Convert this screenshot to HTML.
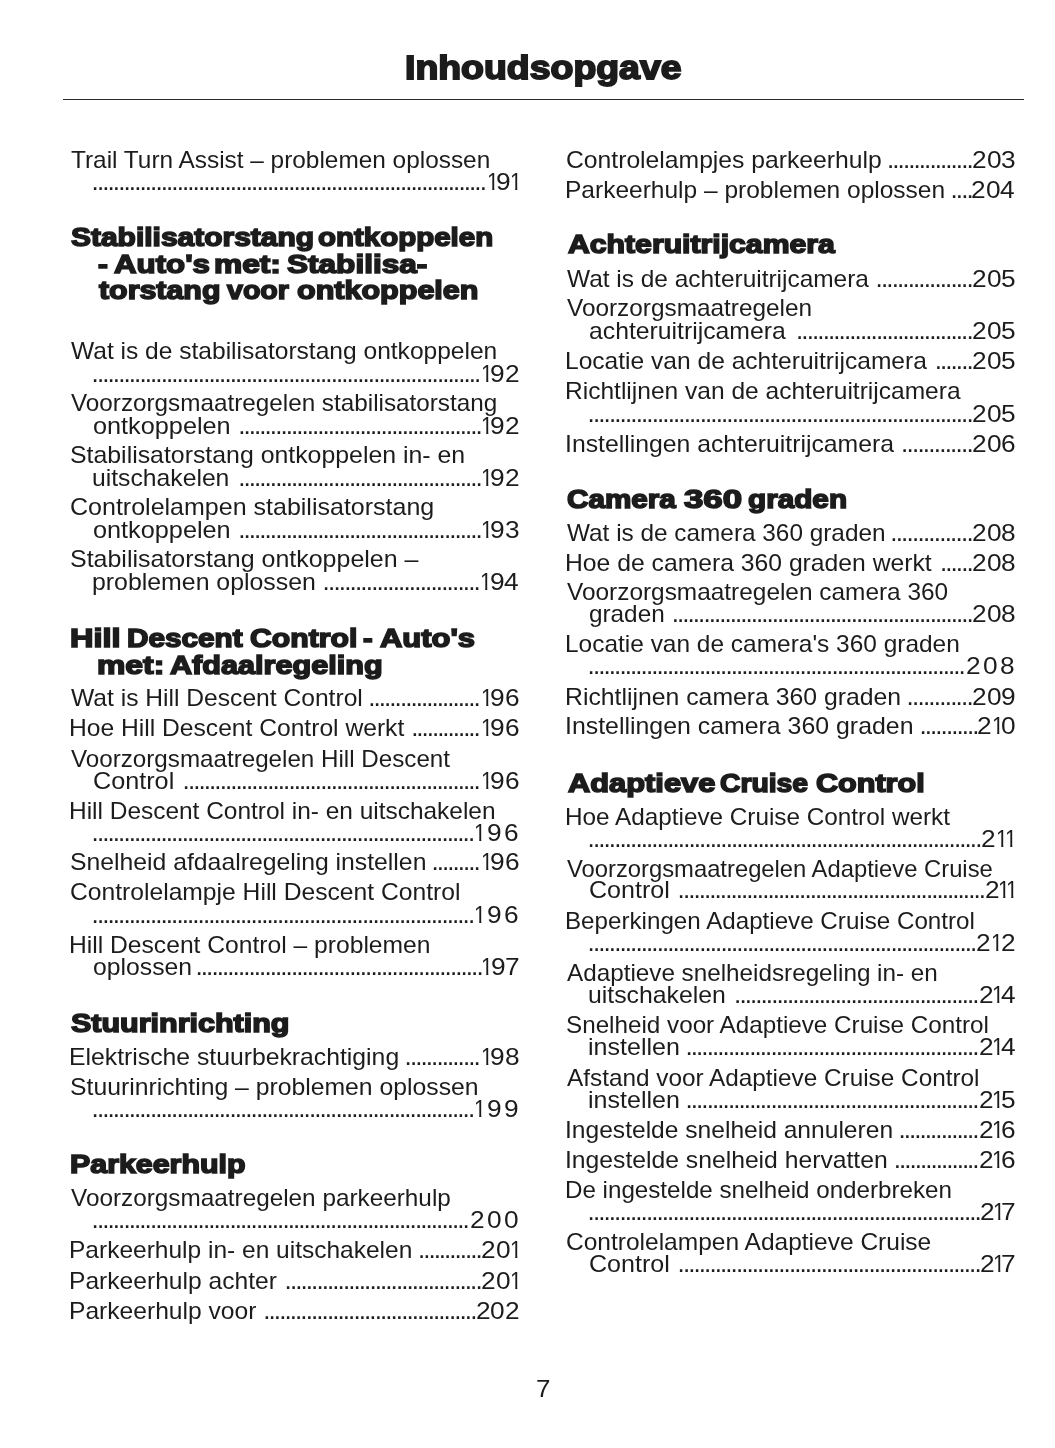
<!DOCTYPE html>
<html lang="nl"><head><meta charset="utf-8"><title>Inhoudsopgave</title>
<style>
html,body{margin:0;padding:0;background:#fff;}
body{width:1055px;height:1448px;position:relative;overflow:hidden;font-family:"Liberation Sans",sans-serif;color:#1c1c1c;}
#page{position:absolute;left:0;top:0;width:1055px;height:1448px;will-change:transform;}
span{position:absolute;white-space:pre;transform-origin:0 0;line-height:40px;display:block;}
.L{font-size:24.0px;}
.N{font-size:23.0px;}
.N1{clip-path:polygon(0 0,100% 0,100% 25.9px,7.95px 25.9px,7.95px 100%,5.7px 100%,5.7px 25.9px,0 25.9px);}
.P{font-size:23.5px;}
.H{font-size:26.5px;font-weight:bold;-webkit-text-stroke:1.6px #1c1c1c;}
.T{font-size:32.5px;font-weight:bold;-webkit-text-stroke:1.8px #1c1c1c;}
.D{font-size:26.0px;line-height:30px;letter-spacing:-1.924px;}
.rule{position:absolute;left:63px;top:99px;width:961px;height:1.4px;background:#2a2a2a;}
</style></head>
<body>
<div id="page">
<div class="rule"></div>
<span class="T" style="left:404.74px;top:48px;transform:scaleX(1.1516)">Inhoudsopgave</span>
<span class="L" style="left:70.85px;top:140px;transform:scaleX(1.0159)">Trail Turn Assist – problemen oplossen</span>
<span class="D" style="left:91.62px;top:166px;letter-spacing:-1.908px">..........................................................................</span>
<span class="N N1" style="left:486.51px;top:162px;transform:scaleX(0.920)">1</span>
<span class="N" style="left:496.10px;top:162px;transform:scaleX(1.1414)">9</span>
<span class="N N1" style="left:510.41px;top:162px;transform:scaleX(0.920)">1</span>
<span class="H" style="left:71.29px;top:217px;transform:scaleX(1.1306)">Stabilisatorstang</span>
<span class="H" style="left:317.89px;top:217px;transform:scaleX(1.1118)">ontkoppelen</span>
<span class="H" style="left:97.94px;top:244px;transform:scaleX(1.1158)">-</span>
<span class="H" style="left:113.51px;top:244px;transform:scaleX(1.1791)">Auto's</span>
<span class="H" style="left:214.40px;top:244px;transform:scaleX(1.1962)">met:</span>
<span class="H" style="left:286.79px;top:244px;transform:scaleX(1.1909)">Stabilisa-</span>
<span class="H" style="left:98.74px;top:270px;transform:scaleX(1.1457)">torstang</span>
<span class="H" style="left:227.03px;top:270px;transform:scaleX(1.0791)">voor</span>
<span class="H" style="left:296.88px;top:270px;transform:scaleX(1.1521)">ontkoppelen</span>
<span class="L" style="left:71.14px;top:331px;transform:scaleX(1.0230)">Wat is de stabilisatorstang ontkoppelen</span>
<span class="D" style="left:91.62px;top:358px;letter-spacing:-1.911px">.........................................................................</span>
<span class="N N1" style="left:480.81px;top:354px;transform:scaleX(0.920)">1</span>
<span class="N" style="left:490.40px;top:354px;transform:scaleX(1.1414)">9</span>
<span class="N" style="left:505.00px;top:354px;transform:scaleX(1.1414)">2</span>
<span class="L" style="left:71.09px;top:383px;transform:scaleX(1.0110)">Voorzorgsmaatregelen stabilisatorstang</span>
<span class="L" style="left:92.92px;top:406px;transform:scaleX(1.0524)">ontkoppelen</span>
<span class="D" style="left:238.22px;top:410px;letter-spacing:-1.950px">..............................................</span>
<span class="N N1" style="left:480.81px;top:406px;transform:scaleX(0.920)">1</span>
<span class="N" style="left:490.40px;top:406px;transform:scaleX(1.1414)">9</span>
<span class="N" style="left:505.00px;top:406px;transform:scaleX(1.1414)">2</span>
<span class="L" style="left:69.92px;top:435px;transform:scaleX(1.0355)">Stabilisatorstang ontkoppelen in- en</span>
<span class="L" style="left:92.40px;top:458px;transform:scaleX(1.0296)">uitschakelen</span>
<span class="D" style="left:238.22px;top:462px;letter-spacing:-1.950px">..............................................</span>
<span class="N N1" style="left:480.81px;top:458px;transform:scaleX(0.920)">1</span>
<span class="N" style="left:490.40px;top:458px;transform:scaleX(1.1414)">9</span>
<span class="N" style="left:505.00px;top:458px;transform:scaleX(1.1414)">2</span>
<span class="L" style="left:70.10px;top:487px;transform:scaleX(1.0422)">Controlelampen stabilisatorstang</span>
<span class="L" style="left:92.92px;top:510px;transform:scaleX(1.0524)">ontkoppelen</span>
<span class="D" style="left:238.22px;top:514px;letter-spacing:-1.950px">..............................................</span>
<span class="N N1" style="left:480.81px;top:510px;transform:scaleX(0.920)">1</span>
<span class="N" style="left:490.40px;top:510px;transform:scaleX(1.1414)">9</span>
<span class="N" style="left:505.00px;top:510px;transform:scaleX(1.1414)">3</span>
<span class="L" style="left:69.92px;top:539px;transform:scaleX(1.0404)">Stabilisatorstang ontkoppelen –</span>
<span class="L" style="left:92.37px;top:562px;transform:scaleX(1.0358)">problemen oplossen</span>
<span class="D" style="left:322.62px;top:566px;letter-spacing:-1.833px">.............................</span>
<span class="N N1" style="left:480.01px;top:562px;transform:scaleX(0.920)">1</span>
<span class="N" style="left:489.60px;top:562px;transform:scaleX(1.1414)">9</span>
<span class="N" style="left:504.20px;top:562px;transform:scaleX(1.1414)">4</span>
<span class="H" style="left:70.37px;top:618px;transform:scaleX(1.2256)">Hill</span>
<span class="H" style="left:126.88px;top:618px;transform:scaleX(1.1204)">Descent</span>
<span class="H" style="left:250.30px;top:618px;transform:scaleX(1.1398)">Control</span>
<span class="H" style="left:363.25px;top:618px;transform:scaleX(1.0918)">-</span>
<span class="H" style="left:380.21px;top:618px;transform:scaleX(1.1680)">Auto's</span>
<span class="H" style="left:97.30px;top:645px;transform:scaleX(1.2019)">met:</span>
<span class="H" style="left:170.01px;top:645px;transform:scaleX(1.1556)">Afdaalregeling</span>
<span class="L" style="left:71.14px;top:678px;transform:scaleX(1.0256)">Wat is Hill Descent Control</span>
<span class="D" style="left:368.32px;top:682px;letter-spacing:-1.962px">.....................</span>
<span class="N N1" style="left:480.81px;top:678px;transform:scaleX(0.920)">1</span>
<span class="N" style="left:490.40px;top:678px;transform:scaleX(1.1414)">9</span>
<span class="N" style="left:505.00px;top:678px;transform:scaleX(1.1414)">6</span>
<span class="L" style="left:69.35px;top:708px;transform:scaleX(1.0259)">Hoe Hill Descent Control werkt</span>
<span class="D" style="left:411.16px;top:712px;letter-spacing:-2.024px">.............</span>
<span class="N N1" style="left:480.81px;top:708px;transform:scaleX(0.920)">1</span>
<span class="N" style="left:490.40px;top:708px;transform:scaleX(1.1414)">9</span>
<span class="N" style="left:505.00px;top:708px;transform:scaleX(1.1414)">6</span>
<span class="L" style="left:71.09px;top:739px;transform:scaleX(1.0076)">Voorzorgsmaatregelen Hill Descent</span>
<span class="L" style="left:92.69px;top:761px;transform:scaleX(1.0499)">Control</span>
<span class="D" style="left:182.62px;top:765px;letter-spacing:-1.934px">........................................................</span>
<span class="N N1" style="left:480.81px;top:761px;transform:scaleX(0.920)">1</span>
<span class="N" style="left:490.40px;top:761px;transform:scaleX(1.1414)">9</span>
<span class="N" style="left:505.00px;top:761px;transform:scaleX(1.1414)">6</span>
<span class="L" style="left:69.36px;top:791px;transform:scaleX(1.0183)">Hill Descent Control in- en uitschakelen</span>
<span class="D" style="left:91.62px;top:817px">........................................................................</span>
<span class="N N1" style="left:474.31px;top:813px;transform:scaleX(0.920)">1</span>
<span class="N" style="left:486.50px;top:813px;transform:scaleX(1.1414)">9</span>
<span class="N" style="left:503.70px;top:813px;transform:scaleX(1.1414)">6</span>
<span class="L" style="left:69.93px;top:842px;transform:scaleX(1.0313)">Snelheid afdaalregeling instellen</span>
<span class="D" style="left:431.62px;top:846px;letter-spacing:-1.982px">.........</span>
<span class="N N1" style="left:480.81px;top:842px;transform:scaleX(0.920)">1</span>
<span class="N" style="left:490.40px;top:842px;transform:scaleX(1.1414)">9</span>
<span class="N" style="left:505.00px;top:842px;transform:scaleX(1.1414)">6</span>
<span class="L" style="left:70.12px;top:872px;transform:scaleX(1.0269)">Controlelampje Hill Descent Control</span>
<span class="D" style="left:91.62px;top:899px">........................................................................</span>
<span class="N N1" style="left:474.31px;top:895px;transform:scaleX(0.920)">1</span>
<span class="N" style="left:486.50px;top:895px;transform:scaleX(1.1414)">9</span>
<span class="N" style="left:503.70px;top:895px;transform:scaleX(1.1414)">6</span>
<span class="L" style="left:69.35px;top:925px;transform:scaleX(1.0265)">Hill Descent Control – problemen</span>
<span class="L" style="left:92.94px;top:947px;transform:scaleX(1.0307)">oplossen</span>
<span class="D" style="left:195.52px;top:951px">......................................................</span>
<span class="N N1" style="left:481.01px;top:947px;transform:scaleX(0.920)">1</span>
<span class="N" style="left:490.60px;top:947px;transform:scaleX(1.1414)">9</span>
<span class="N" style="left:505.20px;top:947px;transform:scaleX(1.1414)">7</span>
<span class="H" style="left:71.29px;top:1003px;transform:scaleX(1.1500)">Stuurinrichting</span>
<span class="L" style="left:69.34px;top:1037px;transform:scaleX(1.0312)">Elektrische stuurbekrachtiging</span>
<span class="D" style="left:404.62px;top:1041px">..............</span>
<span class="N N1" style="left:480.81px;top:1037px;transform:scaleX(0.920)">1</span>
<span class="N" style="left:490.40px;top:1037px;transform:scaleX(1.1414)">9</span>
<span class="N" style="left:505.00px;top:1037px;transform:scaleX(1.1414)">8</span>
<span class="L" style="left:69.93px;top:1067px;transform:scaleX(1.0311)">Stuurinrichting – problemen oplossen</span>
<span class="D" style="left:91.62px;top:1093px">........................................................................</span>
<span class="N N1" style="left:474.31px;top:1089px;transform:scaleX(0.920)">1</span>
<span class="N" style="left:486.50px;top:1089px;transform:scaleX(1.1414)">9</span>
<span class="N" style="left:503.70px;top:1089px;transform:scaleX(1.1414)">9</span>
<span class="H" style="left:70.25px;top:1144px;transform:scaleX(1.1459)">Parkeerhulp</span>
<span class="L" style="left:71.09px;top:1178px;transform:scaleX(1.0131)">Voorzorgsmaatregelen parkeerhulp</span>
<span class="D" style="left:91.62px;top:1204px">.......................................................................</span>
<span class="N" style="left:470.40px;top:1200px;transform:scaleX(1.1414)">2</span>
<span class="N" style="left:487.05px;top:1200px;transform:scaleX(1.1414)">0</span>
<span class="N" style="left:503.70px;top:1200px;transform:scaleX(1.1414)">0</span>
<span class="L" style="left:69.36px;top:1230px;transform:scaleX(1.0212)">Parkeerhulp in- en uitschakelen</span>
<span class="D" style="left:417.92px;top:1234px;letter-spacing:-1.984px">............</span>
<span class="N" style="left:481.10px;top:1230px;transform:scaleX(1.1414)">2</span>
<span class="N" style="left:495.70px;top:1230px;transform:scaleX(1.1414)">0</span>
<span class="N N1" style="left:510.01px;top:1230px;transform:scaleX(0.920)">1</span>
<span class="L" style="left:69.35px;top:1261px;transform:scaleX(1.0252)">Parkeerhulp achter</span>
<span class="D" style="left:284.62px;top:1265px">.....................................</span>
<span class="N" style="left:481.10px;top:1261px;transform:scaleX(1.1414)">2</span>
<span class="N" style="left:495.70px;top:1261px;transform:scaleX(1.1414)">0</span>
<span class="N N1" style="left:510.01px;top:1261px;transform:scaleX(0.920)">1</span>
<span class="L" style="left:69.35px;top:1291px;transform:scaleX(1.0252)">Parkeerhulp voor</span>
<span class="D" style="left:263.22px;top:1295px;letter-spacing:-1.918px">........................................</span>
<span class="N" style="left:475.80px;top:1291px;transform:scaleX(1.1414)">2</span>
<span class="N" style="left:490.40px;top:1291px;transform:scaleX(1.1414)">0</span>
<span class="N" style="left:505.00px;top:1291px;transform:scaleX(1.1414)">2</span>
<span class="L" style="left:565.92px;top:140px;transform:scaleX(1.0290)">Controlelampjes parkeerhulp</span>
<span class="D" style="left:887.02px;top:144px;letter-spacing:-1.928px">................</span>
<span class="N" style="left:971.90px;top:140px;transform:scaleX(1.1414)">2</span>
<span class="N" style="left:986.50px;top:140px;transform:scaleX(1.1414)">0</span>
<span class="N" style="left:1001.10px;top:140px;transform:scaleX(1.1414)">3</span>
<span class="L" style="left:565.16px;top:170px;transform:scaleX(1.0212)">Parkeerhulp – problemen oplossen</span>
<span class="D" style="left:950.56px;top:174px">....</span>
<span class="N" style="left:971.10px;top:170px;transform:scaleX(1.1414)">2</span>
<span class="N" style="left:985.70px;top:170px;transform:scaleX(1.1414)">0</span>
<span class="N" style="left:1000.30px;top:170px;transform:scaleX(1.1414)">4</span>
<span class="H" style="left:567.50px;top:224px;transform:scaleX(1.1394)">Achteruitrijcamera</span>
<span class="L" style="left:566.94px;top:259px;transform:scaleX(1.0181)">Wat is de achteruitrijcamera</span>
<span class="D" style="left:875.62px;top:263px;letter-spacing:-1.880px">..................</span>
<span class="N" style="left:971.90px;top:259px;transform:scaleX(1.1414)">2</span>
<span class="N" style="left:986.50px;top:259px;transform:scaleX(1.1414)">0</span>
<span class="N" style="left:1001.10px;top:259px;transform:scaleX(1.1414)">5</span>
<span class="L" style="left:566.89px;top:288px;transform:scaleX(1.0150)">Voorzorgsmaatregelen</span>
<span class="L" style="left:588.78px;top:311px;transform:scaleX(1.0313)">achteruitrijcamera</span>
<span class="D" style="left:796.02px;top:315px;letter-spacing:-1.898px">.................................</span>
<span class="N" style="left:971.90px;top:311px;transform:scaleX(1.1414)">2</span>
<span class="N" style="left:986.50px;top:311px;transform:scaleX(1.1414)">0</span>
<span class="N" style="left:1001.10px;top:311px;transform:scaleX(1.1414)">5</span>
<span class="L" style="left:565.15px;top:341px;transform:scaleX(1.0236)">Locatie van de achteruitrijcamera</span>
<span class="D" style="left:934.66px;top:345px">.......</span>
<span class="N" style="left:971.90px;top:341px;transform:scaleX(1.1414)">2</span>
<span class="N" style="left:986.50px;top:341px;transform:scaleX(1.1414)">0</span>
<span class="N" style="left:1001.10px;top:341px;transform:scaleX(1.1414)">5</span>
<span class="L" style="left:565.16px;top:371px;transform:scaleX(1.0225)">Richtlijnen van de achteruitrijcamera</span>
<span class="D" style="left:587.62px;top:398px;letter-spacing:-1.888px">........................................................................</span>
<span class="N" style="left:971.90px;top:394px;transform:scaleX(1.1414)">2</span>
<span class="N" style="left:986.50px;top:394px;transform:scaleX(1.1414)">0</span>
<span class="N" style="left:1001.10px;top:394px;transform:scaleX(1.1414)">5</span>
<span class="L" style="left:564.90px;top:424px;transform:scaleX(1.0318)">Instellingen achteruitrijcamera</span>
<span class="D" style="left:901.06px;top:428px;letter-spacing:-1.774px">.............</span>
<span class="N" style="left:971.90px;top:424px;transform:scaleX(1.1414)">2</span>
<span class="N" style="left:986.50px;top:424px;transform:scaleX(1.1414)">0</span>
<span class="N" style="left:1001.10px;top:424px;transform:scaleX(1.1414)">6</span>
<span class="H" style="left:566.81px;top:479px;transform:scaleX(1.1189)">Camera</span>
<span class="H" style="left:683.82px;top:479px;transform:scaleX(1.3132)">360</span>
<span class="H" style="left:747.93px;top:479px;transform:scaleX(1.1208)">graden</span>
<span class="L" style="left:566.94px;top:513px;transform:scaleX(1.0146)">Wat is de camera 360 graden</span>
<span class="D" style="left:890.22px;top:517px;letter-spacing:-1.778px">...............</span>
<span class="N" style="left:971.90px;top:513px;transform:scaleX(1.1414)">2</span>
<span class="N" style="left:986.50px;top:513px;transform:scaleX(1.1414)">0</span>
<span class="N" style="left:1001.10px;top:513px;transform:scaleX(1.1414)">8</span>
<span class="L" style="left:565.14px;top:543px;transform:scaleX(1.0295)">Hoe de camera 360 graden werkt</span>
<span class="D" style="left:939.96px;top:547px">......</span>
<span class="N" style="left:971.90px;top:543px;transform:scaleX(1.1414)">2</span>
<span class="N" style="left:986.50px;top:543px;transform:scaleX(1.1414)">0</span>
<span class="N" style="left:1001.10px;top:543px;transform:scaleX(1.1414)">8</span>
<span class="L" style="left:566.89px;top:572px;transform:scaleX(1.0167)">Voorzorgsmaatregelen camera 360</span>
<span class="L" style="left:588.87px;top:594px;transform:scaleX(1.0126)">graden</span>
<span class="D" style="left:671.82px;top:598px;letter-spacing:-1.962px">.........................................................</span>
<span class="N" style="left:971.90px;top:594px;transform:scaleX(1.1414)">2</span>
<span class="N" style="left:986.50px;top:594px;transform:scaleX(1.1414)">0</span>
<span class="N" style="left:1001.10px;top:594px;transform:scaleX(1.1414)">8</span>
<span class="L" style="left:565.16px;top:624px;transform:scaleX(1.0188)">Locatie van de camera's 360 graden</span>
<span class="D" style="left:587.62px;top:650px">.......................................................................</span>
<span class="N" style="left:966.30px;top:646px;transform:scaleX(1.1414)">2</span>
<span class="N" style="left:983.20px;top:646px;transform:scaleX(1.1414)">0</span>
<span class="N" style="left:1000.10px;top:646px;transform:scaleX(1.1414)">8</span>
<span class="L" style="left:565.13px;top:677px;transform:scaleX(1.0326)">Richtlijnen camera 360 graden</span>
<span class="D" style="left:906.62px;top:681px;letter-spacing:-1.784px">............</span>
<span class="N" style="left:971.90px;top:677px;transform:scaleX(1.1414)">2</span>
<span class="N" style="left:986.50px;top:677px;transform:scaleX(1.1414)">0</span>
<span class="N" style="left:1001.10px;top:677px;transform:scaleX(1.1414)">9</span>
<span class="L" style="left:564.89px;top:706px;transform:scaleX(1.0365)">Instellingen camera 360 graden</span>
<span class="D" style="left:919.62px;top:710px;letter-spacing:-1.970px">...........</span>
<span class="N" style="left:977.20px;top:706px;transform:scaleX(1.1414)">2</span>
<span class="N N1" style="left:991.51px;top:706px;transform:scaleX(0.920)">1</span>
<span class="N" style="left:1001.10px;top:706px;transform:scaleX(1.1414)">0</span>
<span class="H" style="left:567.51px;top:763px;transform:scaleX(1.1632)">Adaptieve</span>
<span class="H" style="left:720.13px;top:763px;transform:scaleX(1.0679)">Cruise</span>
<span class="H" style="left:815.70px;top:763px;transform:scaleX(1.1538)">Control</span>
<span class="L" style="left:565.17px;top:797px;transform:scaleX(1.0125)">Hoe Adaptieve Cruise Control werkt</span>
<span class="D" style="left:587.62px;top:823px;letter-spacing:-1.915px">..........................................................................</span>
<span class="N" style="left:981.40px;top:819px;transform:scaleX(1.1414)">2</span>
<span class="N N1" style="left:995.71px;top:819px;transform:scaleX(0.920)">1</span>
<span class="N N1" style="left:1005.01px;top:819px;transform:scaleX(0.920)">1</span>
<span class="L" style="left:566.90px;top:849px;transform:scaleX(0.9911)">Voorzorgsmaatregelen Adaptieve Cruise</span>
<span class="L" style="left:588.60px;top:870px;transform:scaleX(1.0432)">Control</span>
<span class="D" style="left:677.62px;top:874px;letter-spacing:-1.941px">..........................................................</span>
<span class="N" style="left:985.40px;top:870px;transform:scaleX(1.1414)">2</span>
<span class="N N1" style="left:998.06px;top:870px;transform:scaleX(0.920)">1</span>
<span class="N N1" style="left:1005.71px;top:870px;transform:scaleX(0.920)">1</span>
<span class="L" style="left:565.19px;top:901px;transform:scaleX(1.0073)">Beperkingen Adaptieve Cruise Control</span>
<span class="D" style="left:587.62px;top:927px;letter-spacing:-1.911px">.........................................................................</span>
<span class="N" style="left:975.70px;top:923px;transform:scaleX(1.1414)">2</span>
<span class="N N1" style="left:990.76px;top:923px;transform:scaleX(0.920)">1</span>
<span class="N" style="left:1001.10px;top:923px;transform:scaleX(1.1414)">2</span>
<span class="L" style="left:566.95px;top:953px;transform:scaleX(1.0105)">Adaptieve snelheidsregeling in- en</span>
<span class="L" style="left:588.29px;top:975px;transform:scaleX(1.0335)">uitschakelen</span>
<span class="D" style="left:734.12px;top:979px;letter-spacing:-1.930px">..............................................</span>
<span class="N" style="left:978.60px;top:975px;transform:scaleX(1.1414)">2</span>
<span class="N N1" style="left:991.96px;top:975px;transform:scaleX(0.920)">1</span>
<span class="N" style="left:1000.60px;top:975px;transform:scaleX(1.1414)">4</span>
<span class="L" style="left:565.76px;top:1005px;transform:scaleX(1.0096)">Snelheid voor Adaptieve Cruise Control</span>
<span class="L" style="left:588.23px;top:1027px;transform:scaleX(1.0430)">instellen</span>
<span class="D" style="left:685.42px;top:1031px;letter-spacing:-1.910px">.......................................................</span>
<span class="N" style="left:978.60px;top:1027px;transform:scaleX(1.1414)">2</span>
<span class="N N1" style="left:991.96px;top:1027px;transform:scaleX(0.920)">1</span>
<span class="N" style="left:1000.60px;top:1027px;transform:scaleX(1.1414)">4</span>
<span class="L" style="left:566.95px;top:1058px;transform:scaleX(1.0138)">Afstand voor Adaptieve Cruise Control</span>
<span class="L" style="left:588.23px;top:1080px;transform:scaleX(1.0430)">instellen</span>
<span class="D" style="left:685.42px;top:1084px;letter-spacing:-1.910px">.......................................................</span>
<span class="N" style="left:978.60px;top:1080px;transform:scaleX(1.1414)">2</span>
<span class="N N1" style="left:992.21px;top:1080px;transform:scaleX(0.920)">1</span>
<span class="N" style="left:1001.10px;top:1080px;transform:scaleX(1.1414)">5</span>
<span class="L" style="left:564.92px;top:1110px;transform:scaleX(1.0244)">Ingestelde snelheid annuleren</span>
<span class="D" style="left:898.42px;top:1114px;letter-spacing:-1.943px">...............</span>
<span class="N" style="left:978.60px;top:1110px;transform:scaleX(1.1414)">2</span>
<span class="N N1" style="left:992.21px;top:1110px;transform:scaleX(0.920)">1</span>
<span class="N" style="left:1001.10px;top:1110px;transform:scaleX(1.1414)">6</span>
<span class="L" style="left:564.91px;top:1140px;transform:scaleX(1.0291)">Ingestelde snelheid hervatten</span>
<span class="D" style="left:893.82px;top:1144px;letter-spacing:-1.988px">................</span>
<span class="N" style="left:978.60px;top:1140px;transform:scaleX(1.1414)">2</span>
<span class="N N1" style="left:992.21px;top:1140px;transform:scaleX(0.920)">1</span>
<span class="N" style="left:1001.10px;top:1140px;transform:scaleX(1.1414)">6</span>
<span class="L" style="left:565.19px;top:1170px;transform:scaleX(1.0068)">De ingestelde snelheid onderbreken</span>
<span class="D" style="left:587.62px;top:1196px">..........................................................................</span>
<span class="N" style="left:979.90px;top:1192px;transform:scaleX(1.1414)">2</span>
<span class="N N1" style="left:992.86px;top:1192px;transform:scaleX(0.920)">1</span>
<span class="N" style="left:1001.10px;top:1192px;transform:scaleX(1.1414)">7</span>
<span class="L" style="left:565.93px;top:1222px;transform:scaleX(1.0215)">Controlelampen Adaptieve Cruise</span>
<span class="L" style="left:588.60px;top:1244px;transform:scaleX(1.0432)">Control</span>
<span class="D" style="left:677.62px;top:1248px">.........................................................</span>
<span class="N" style="left:979.90px;top:1244px;transform:scaleX(1.1414)">2</span>
<span class="N N1" style="left:992.86px;top:1244px;transform:scaleX(0.920)">1</span>
<span class="N" style="left:1001.10px;top:1244px;transform:scaleX(1.1414)">7</span>
<span class="P" style="left:535.67px;top:1369px;transform:scaleX(1.1037)">7</span>
</div>
</body></html>
